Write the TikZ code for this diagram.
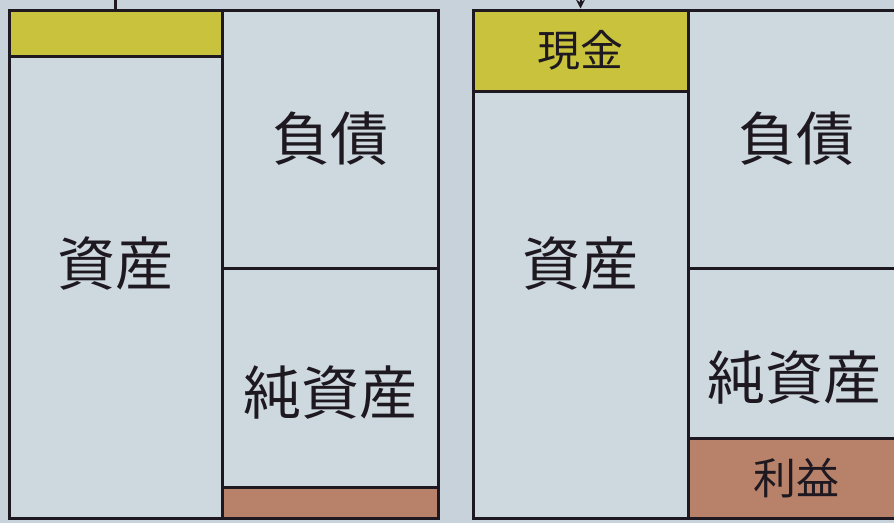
\documentclass[tikz,border=0pt]{standalone}
\usepackage{fontspec}
\newfontfamily\jp{Noto Sans CJK JP}
\usetikzlibrary{arrows.meta}
\definecolor{paper}{HTML}{C8D2DA}
\definecolor{boxfill}{HTML}{CED8DF}
\definecolor{cashyellow}{HTML}{C9C23C}
\definecolor{profitbrown}{HTML}{B8826A}
\definecolor{ink}{HTML}{1E1820}
\begin{document}
\begin{tikzpicture}[x=1pt,y=-1pt,
	box/.style={draw=ink,line width=3pt,inner sep=0,fill=boxfill,text=ink,
		font=\jp\fontsize{58}{60}\selectfont},
	strip/.style={box,font=\jp\fontsize{43}{45}\selectfont}]
	\fill[paper] (0,0) rectangle (894,523);
	\useasboundingbox (0,0) rectangle (894,523);
	\clip (0,0) rectangle (894,523);
	% left sheet
	\node[box,minimum width=213pt,minimum height=508pt] (lasset) at (115.5,264) {資産};
	\node[box,fill=cashyellow,minimum width=213pt,minimum height=46pt] (lcash) at (115.5,33) {};
	\node[box,minimum width=216pt,minimum height=258pt] (lliab) at (330,139) {負債};
	\node[box,minimum width=216pt,minimum height=250pt] (lequity) at (330,393) {純資産};
	\node[box,fill=profitbrown,minimum width=216pt,minimum height=31pt] (lprofit) at (330,502.5) {};
	% right sheet
	\node[box,minimum width=215pt,minimum height=508pt] (rasset) at (580.5,264) {資産};
	\node[strip,fill=cashyellow,minimum width=215pt,minimum height=81pt] (rcash) at (580.5,50.5) {現金};
	\node[box,minimum width=216pt,minimum height=258pt] (rliab) at (796,139) {負債};
	\node[box,minimum width=216pt,minimum height=250pt] (requity) at (796,393) {};
	\node[text=ink,font=\jp\fontsize{58}{60}\selectfont] (requitytext) at (794,378) {純資産};
	\node[strip,fill=profitbrown,minimum width=216pt,minimum height=80pt] (rprofit) at (796,478) {利益};
	% stems at the top
	\coordinate (ltop) at (115.5,-5);
	\coordinate (rtop) at (580.5,-12);
	\draw[ink,line width=2.5pt] (ltop)--(lasset.north);
	\draw[ink,line width=2pt,-{Stealth[length=9pt,width=9pt]}] (rtop)--(rcash.north);
\end{tikzpicture}
\end{document}
